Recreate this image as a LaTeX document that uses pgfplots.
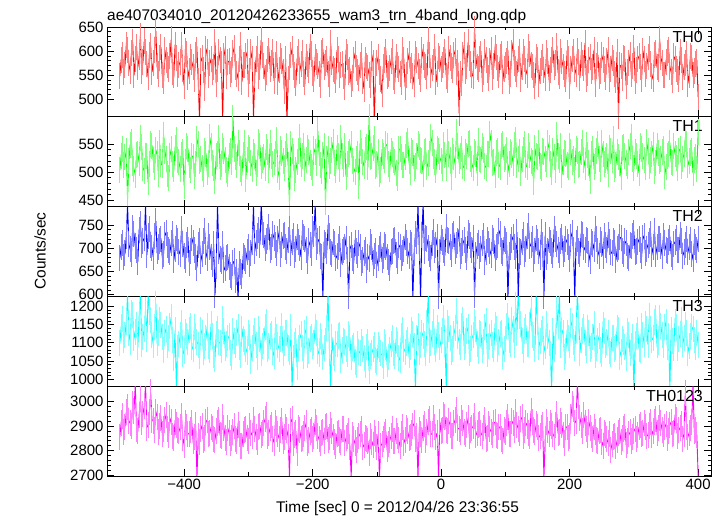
\documentclass[border=0pt]{standalone}
\usepackage{fontspec}
\setmainfont{Liberation Sans}
\usepackage{pgfplots}
\usepackage{pgfplotstable}
\pgfplotsset{compat=1.18}
\definecolor{qred}{RGB}{255,0,0}
\definecolor{qgreen}{RGB}{0,255,0}
\definecolor{qblue}{RGB}{0,0,255}
\definecolor{qcyan}{RGB}{0,255,255}
\definecolor{qmag}{RGB}{255,0,255}

\pgfplotstableread{
t a b c d e
-500 548 503 678 1098 2856
-498 581 529 703 1142 2913
-496 592 541 712 1165 2941
-494 556 512 681 1107 2874
-492 571 526 689 1121 2898
-490 612 537 726 1158 2956
-488 603 452 793 1230 2977
-486 574 519 709 1126 2921
-484 558 548 698 1103 2912
-482 595 553 688 1181 2902
-480 619 517 744 1176 2990
-478 549 506 731 1112 2963
-476 583 495 705 1129 3070
-474 608 531 697 1149 2887
-472 566 533 671 1088 2881
-470 587 517 739 1171 2945
-468 632 561 752 1235 3012
-466 559 544 706 1096 2918
-464 578 508 716 1117 2949
-462 621 502 722 1137 2981
-460 597 529 792 1190 3068
-458 573 528 685 1109 2894
-456 545 482 727 1232 2903
-454 592 514 741 1183 2957
-452 611 550 708 1162 3038
-450 556 547 701 1121 2926
-448 574 521 681 1095 2922
-446 603 509 727 1144 2884
-444 642 539 759 1207 2959
-442 568 532 694 1098 2938
-440 552 497 702 1126 2874
-438 586 551 715 1162 2901
-436 608 515 719 1148 2931
-434 549 512 683 1115 2869
-432 537 566 688 1081 2890
-430 602 538 728 1127 2923
-428 581 524 734 1139 2947
-426 571 497 706 1093 2889
-424 563 489 696 1112 2865
-422 589 529 692 1146 2931
-420 624 541 711 1171 2916
-418 557 514 731 1108 2861
-416 549 506 674 1058 2852
-414 613 543 699 1134 2918
-412 586 557 723 975 2903
-410 552 521 716 1087 2882
-408 571 518 692 1096 2878
-406 578 505 687 1121 2895
-404 612 531 741 1153 2941
-402 563 536 709 1068 2851
-400 528 476 683 1077 2823
-398 601 518 674 1129 2912
-396 594 547 706 1118 2896
-394 545 541 718 1101 2867
-392 559 512 669 1135 2869
-390 587 503 693 1147 2884
-388 577 529 722 1089 2911
-386 566 527 711 1082 2839
-384 541 493 697 1142 2857
-382 592 515 682 1118 2903
-380 603 558 658 1103 2690
-378 538 549 706 1095 2858
-376 455 519 715 1064 2836
-374 579 524 672 1136 2887
-372 586 507 687 1127 2902
-370 561 497 715 1076 2842
-368 522 538 738 1092 2853
-366 604 533 691 1113 2918
-364 597 501 679 1145 2925
-362 549 515 727 1091 2866
-360 574 562 703 1081 2871
-358 583 546 682 1151 2895
-356 556 516 665 1119 2890
-354 566 508 709 1067 2847
-352 618 484 598 1056 2844
-350 532 529 661 1124 2881
-348 563 533 795 1137 2912
-346 598 561 694 1102 2924
-344 581 509 676 1098 2863
-342 572 514 672 1081 2859
-340 458 547 709 1164 2937
-338 589 537 653 1133 2893
-336 605 521 657 1085 2852
-334 548 503 678 1097 2836
-332 577 496 681 1112 2891
-330 579 529 659 1118 2871
-328 552 538 643 1073 2829
-326 561 518 637 1061 2852
-324 596 596 669 1131 2874
-322 607 541 672 1104 2899
-320 567 527 631 1095 2847
-318 553 512 648 1126 2838
-316 543 551 592 1142 2905
-314 584 534 667 1088 2869
-312 612 505 648 1067 2818
-310 536 498 641 1139 2817
-308 571 531 684 1109 2866
-306 571 552 679 1101 2884
-304 589 488 673 1083 2889
-302 597 521 691 1074 2853
-300 531 542 702 1126 2841
-298 558 539 667 1117 2902
-296 598 517 689 1051 2873
-294 583 506 714 1085 2861
-292 461 536 791 1113 2926
-290 549 528 695 1131 2887
-288 584 499 711 1094 2857
-286 604 515 727 1062 2834
-284 547 553 739 1138 2898
-282 566 547 708 1109 2901
-280 623 511 798 1072 2864
-278 591 522 735 1092 2872
-276 569 526 728 1105 2912
-274 544 508 701 1143 2928
-272 556 544 716 1156 2945
-270 584 536 724 1084 2858
-268 601 503 745 1091 2871
-266 562 551 697 1118 2893
-264 576 529 703 1124 2903
-262 598 514 731 1076 2849
-260 538 518 722 1063 2832
-258 571 532 706 1135 2912
-256 593 557 690 1117 2887
-254 536 503 719 1094 2866
-252 561 491 736 1082 2848
-250 589 541 688 1109 2884
-248 579 534 708 1147 2919
-246 557 519 726 1071 2837
-244 517 508 729 1099 2856
-242 583 533 703 1128 2897
-240 452 546 694 1126 2882
-238 541 512 717 1087 2854
-236 566 445 741 1075 2692
-234 592 549 689 1142 2919
-232 604 537 713 978 2928
-230 567 526 727 1059 2831
-228 549 489 686 1094 2862
-226 534 504 698 1105 2873
-224 583 518 725 1033 2791
-222 598 538 714 1086 2891
-220 558 562 701 1113 2884
-218 572 515 681 1123 2849
-216 595 528 733 1086 2852
-214 553 547 724 1064 2868
-212 536 507 719 1128 2893
-210 587 522 696 1137 2912
-208 572 543 672 1067 2829
-206 561 535 715 1078 2843
-204 609 516 706 1109 2875
-202 594 509 689 1115 2885
-200 554 498 742 1091 2846
-198 542 541 731 1098 2859
-196 587 535 794 1143 2918
-194 578 517 703 1126 2894
-192 568 574 715 1078 2861
-190 553 534 719 1069 2846
-188 529 512 683 1118 2832
-186 595 502 681 1103 2873
-184 601 530 595 1062 2874
-182 567 546 712 1087 2838
-180 575 447 707 1104 2897
-178 584 523 695 1141 2901
-176 552 541 744 1233 2843
-174 531 511 726 1092 2856
-172 616 519 691 976 2905
-170 577 539 688 1116 2879
-168 563 553 713 1072 2856
-166 558 517 709 1058 2833
-164 539 504 678 1097 2819
-162 602 542 684 1097 2868
-160 584 528 702 1119 2871
-158 549 506 719 1121 2842
-156 571 561 666 1054 2836
-154 572 529 691 1079 2887
-152 548 515 697 1106 2889
-150 526 547 703 1102 2831
-148 597 492 721 1083 2851
-146 588 514 674 1068 2859
-144 556 532 597 1125 2878
-142 561 535 698 1113 2816
-140 531 549 706 1061 2694
-138 543 519 679 1087 2862
-136 582 506 672 1092 2846
-134 594 501 712 1048 2829
-132 565 524 694 1039 2803
-130 557 533 686 1096 2845
-128 543 476 711 1076 2858
-126 571 551 703 1071 2868
-124 589 537 668 1103 2887
-122 538 518 674 1084 2813
-120 521 511 689 1058 2822
-118 582 539 697 1039 2851
-116 568 545 653 1089 2849
-114 564 509 682 1101 2837
-112 550 598 677 1024 2792
-110 529 527 714 1063 2858
-108 593 529 702 1071 2836
-106 576 542 669 1082 2821
-104 450 558 684 1095 2873
-102 559 511 693 1054 2847
-100 574 514 663 1047 2814
-98 587 536 678 1093 2866
-96 556 496 699 1083 2688
-94 541 503 706 1071 2818
-92 511 536 675 1066 2828
-90 566 528 684 1037 2849
-88 582 521 708 1102 2865
-86 598 549 702 1088 2874
-84 547 547 681 1041 2805
-82 552 515 671 1062 2826
-80 564 505 657 1079 2842
-78 579 537 691 1096 2859
-76 598 532 694 1114 2889
-74 546 521 716 1071 2837
-72 538 518 718 1063 2838
-70 588 498 686 1108 2879
-68 571 489 672 1097 2861
-66 563 541 707 1057 2842
-64 553 541 703 1052 2817
-62 535 526 679 1118 2868
-60 602 513 689 1135 2895
-58 581 512 698 1083 2831
-56 526 527 724 1076 2844
-54 549 548 712 1099 2894
-52 579 556 695 1108 2878
-50 593 519 683 1067 2852
-48 561 501 711 1089 2857
-46 568 537 707 1136 2873
-44 547 534 594 1123 2902
-42 531 507 689 1091 2911
-40 593 511 730 972 2846
-38 582 528 716 1112 2859
-36 569 549 792 1147 2691
-34 556 545 701 1074 2885
-32 542 522 590 1094 2869
-30 603 519 728 1128 2843
-28 587 497 795 1118 2891
-26 571 536 694 1097 2907
-24 566 538 722 1071 2842
-22 547 509 719 1153 2874
-20 623 516 701 1230 2917
-18 592 532 687 1081 2929
-16 551 563 679 1098 2868
-14 564 551 712 1124 2866
-12 577 528 736 1156 2931
-10 609 518 696 1102 2897
-8 535 503 708 1082 2857
-6 553 541 724 1141 2871
-4 590 537 596 1121 2693
-2 584 526 691 1089 2918
0 563 519 723 1107 2878
2 571 507 713 1133 2884
4 581 548 697 1168 2946
6 597 531 689 1096 2937
8 548 508 745 979 2886
10 539 553 718 1154 2879
12 604 533 716 1139 2921
14 586 522 702 1112 2904
16 569 492 688 1076 2861
18 561 538 727 1083 2858
20 592 526 731 1124 2912
22 601 513 694 1141 2926
24 557 571 706 1187 2965
26 576 546 716 1118 2891
28 470 519 742 1102 2889
30 553 529 683 1089 2877
32 533 541 693 1145 2933
34 592 511 711 1163 2913
36 612 507 718 1088 2876
38 559 536 697 1106 2868
40 568 529 681 1131 2904
42 618 549 733 1142 2931
44 585 552 726 1072 2858
46 572 524 706 1084 2882
48 551 514 697 1113 2893
50 547 507 723 1121 2899
52 646 536 598 1157 2941
54 589 532 686 1137 2863
56 566 498 704 1096 2872
58 563 556 712 1077 2906
60 583 524 683 1128 2908
62 594 521 698 1124 2871
64 542 547 712 1081 2861
66 557 539 727 1102 2894
68 598 511 671 1142 2923
70 581 508 692 1159 2849
72 561 533 718 1069 2853
74 543 533 709 1091 2908
76 579 568 695 1115 2887
78 602 552 685 1127 2876
80 546 517 723 1093 2865
82 569 518 716 1083 2913
84 606 495 678 1148 2916
86 587 534 703 1139 2862
88 565 538 707 1084 2859
90 551 512 738 1101 2895
92 588 509 731 1125 2897
94 594 547 694 1128 2847
96 537 549 689 1063 2838
98 562 523 721 1082 2886
100 571 526 715 1109 2874
102 579 539 706 1146 2913
104 594 501 594 1172 2938
106 538 514 686 1107 2869
108 553 535 702 1097 2866
110 596 531 718 1161 2921
112 618 516 725 1138 2911
114 574 548 702 1093 2884
116 562 557 684 1204 2957
118 552 512 735 1128 2906
120 584 523 591 1238 2889
122 598 535 693 1174 2871
124 541 498 691 1151 2927
126 567 523 714 1106 2936
128 597 539 729 1079 2861
130 584 549 687 1133 2883
132 558 512 699 1143 2912
134 551 509 726 1097 2902
136 609 546 748 1096 2871
138 593 531 704 1149 2859
140 571 519 708 1196 2963
142 566 517 719 1121 2917
144 549 483 676 1112 2885
146 528 542 695 1083 2874
148 587 528 722 1229 2907
150 581 526 713 1158 2896
152 532 551 694 1088 2853
154 558 511 681 1104 2861
156 575 507 736 1126 2894
158 587 538 707 1137 2905
160 561 536 596 1075 2690
162 543 524 728 1091 2849
164 596 514 681 1152 2917
166 579 552 694 1118 2882
168 543 542 717 1099 2868
170 561 515 711 1068 2913
172 582 501 695 974 2899
174 603 538 686 1133 2868
176 566 527 741 1083 2856
178 574 504 721 1102 2904
180 611 566 709 1193 2949
182 556 529 697 1147 2872
184 548 521 686 1234 2874
186 598 547 715 1093 2921
188 579 495 724 1135 2903
190 567 518 688 1126 2863
192 553 534 698 1061 2831
194 541 532 719 1078 2895
196 595 512 713 1128 2897
198 583 509 703 1112 2852
200 527 547 677 1094 2858
202 562 536 724 1159 2937
204 584 518 734 1146 2989
206 597 524 696 1102 2968
208 562 503 593 1087 2912
210 553 541 712 1136 2921
212 599 538 719 1231 3072
214 578 512 694 1168 2983
216 544 515 687 1072 2934
218 591 536 731 1107 2906
220 576 552 728 1133 2878
222 564 521 702 1144 2945
224 617 509 696 1098 2911
226 541 548 718 1079 2889
228 554 531 716 1141 2862
230 582 516 688 1126 2917
232 588 484 672 1083 2893
234 559 533 713 1092 2864
236 567 541 709 1116 2847
238 603 509 698 1151 2898
240 531 519 741 1067 2874
242 568 538 721 1087 2843
244 592 549 694 1105 2839
246 547 523 684 1119 2881
248 558 506 718 1081 2886
250 591 551 709 1068 2836
252 581 533 683 1149 2818
254 562 514 727 1132 2872
256 546 522 706 1094 2863
258 579 529 696 1101 2847
260 602 497 729 1127 2829
262 542 543 713 1077 2868
264 563 537 691 1069 2802
266 586 521 689 1114 2827
268 574 558 715 1113 2856
270 553 506 711 1083 2859
272 539 513 674 1088 2817
274 598 536 698 1141 2842
276 465 526 703 1134 2871
278 571 517 724 1062 2879
280 568 492 722 1076 2836
282 544 542 693 1109 2851
284 585 544 688 1103 2889
286 583 528 715 1088 2896
288 528 517 711 1057 2824
290 556 511 684 1132 2838
292 576 535 679 1121 2866
294 592 547 706 1071 2874
296 553 563 704 1092 2839
298 568 523 726 1116 2857
300 607 508 733 977 2881
302 537 535 691 1097 2889
304 561 529 695 1118 2847
306 584 514 713 1134 2862
308 589 498 719 1084 2895
310 566 546 697 1079 2904
312 542 541 683 1146 2869
314 601 528 722 1121 2873
316 583 521 727 1097 2911
318 553 509 689 1152 2897
320 569 554 699 1139 2858
322 587 537 708 1094 2865
324 604 511 716 1172 2902
326 572 521 731 1137 2918
328 548 533 688 1108 2864
330 541 548 702 1112 2881
332 592 502 738 1156 2917
334 596 516 687 1169 2929
336 566 546 702 1093 2873
338 562 534 719 1101 2892
340 625 519 719 1167 2931
342 587 523 705 1146 2913
344 574 536 684 1121 2884
346 549 541 726 1093 2868
348 551 494 711 1143 2897
350 578 509 696 1157 2907
352 596 528 693 1089 2852
354 603 532 714 1118 2879
356 567 552 722 973 2906
358 556 518 688 1136 2916
360 539 516 681 1104 2869
362 589 546 709 1087 2871
364 584 533 713 1158 2938
366 563 525 723 1142 2924
368 557 507 697 1087 2861
370 542 538 697 1109 2883
372 598 541 729 1124 2894
374 581 511 716 1163 2907
376 545 523 684 1096 2847
378 566 532 692 1114 2868
380 576 559 708 1149 3035
382 594 549 721 1128 2897
384 532 512 691 1072 2856
386 551 519 703 1091 2873
388 589 534 717 1118 2891
390 586 537 688 1144 2918
392 551 498 676 1137 3066
394 559 522 713 1108 2879
396 573 527 702 1089 2883
398 578 506 697 1126 2862
400 504 571 719 1095 2695
}\data

\pgfplotsset{
  qdp/.style={
    width=604bp, height=89.8bp, scale only axis, anchor=south west,
    xmin=-520, xmax=420,
    xtick={-400,-200,0,200,400}, xticklabels={},
    minor x tick num=1, minor y tick num=4,
    major tick length=7bp, minor tick length=3.5bp,
    axis line style={line width=0.8pt},
    every tick/.style={black, line width=0.6pt},
    tick label style={font=\fontsize{15}{17}\selectfont},
    /pgf/number format/assume math mode=true,
    /pgf/number format/1000 sep={},
  },
  err/.style={only marks, mark=|, mark size=13bp, forget plot,
    mark options={#1!50, line width=1.0pt}},
  ln/.style={#1, line width=0.9pt, mark=none},
}
\tikzset{lab/.style={anchor=north east, inner sep=0pt, xshift=-8bp, yshift=-4bp,
    font=\fontsize{16}{18}\selectfont}}

\begin{document}
\begin{tikzpicture}
\useasboundingbox (0,0) rectangle (723bp,516bp);
\node[anchor=base west, inner sep=0pt, font=\fontsize{15.5}{18}\selectfont] at (107bp,495bp) {ae407034010\_20120426233655\_wam3\_trn\_4band\_long.qdp};
\node[rotate=90, inner sep=0pt, font=\fontsize{15.5}{18}\selectfont] at (40bp,265bp) {Counts/sec};
\node[anchor=base, inner sep=0pt, font=\fontsize{15.5}{18}\selectfont] at (397.5bp,4bp) {Time [sec] 0 = 2012/04/26 23:36:55};

\begin{axis}[qdp, at={(107bp,399.2bp)}, ymin=463, ymax=650, ytick={500,550,600,650}]
\addplot[err=qred] table[x=t,y=a]{\data};
\addplot[ln=qred] table[x=t,y=a]{\data};
\node[lab] at (rel axis cs:1,1) {TH0};
\end{axis}

\begin{axis}[qdp, at={(107bp,309.4bp)}, ymin=439, ymax=598, ytick={450,500,550}]
\addplot[err=qgreen] table[x=t,y=b]{\data};
\addplot[ln=qgreen] table[x=t,y=b]{\data};
\node[lab] at (rel axis cs:1,1) {TH1};
\end{axis}

\begin{axis}[qdp, at={(107bp,219.6bp)}, ymin=596, ymax=790, ytick={600,650,700,750}]
\addplot[err=qblue] table[x=t,y=c]{\data};
\addplot[ln=qblue] table[x=t,y=c]{\data};
\node[lab] at (rel axis cs:1,1) {TH2};
\end{axis}

\begin{axis}[qdp, at={(107bp,129.8bp)}, ymin=981, ymax=1227, ytick={1000,1050,1100,1150,1200}]
\addplot[err=qcyan] table[x=t,y=d]{\data};
\addplot[ln=qcyan] table[x=t,y=d]{\data};
\node[lab] at (rel axis cs:1,1) {TH3};
\end{axis}

\begin{axis}[qdp, at={(107bp,40bp)}, ymin=2696, ymax=3063, ytick={2700,2800,2900,3000},
  xticklabels={−400,−200,0,200,400}]
\addplot[err=qmag] table[x=t,y=e]{\data};
\addplot[ln=qmag] table[x=t,y=e]{\data};
\node[lab] at (rel axis cs:1,1) {TH0123};
\end{axis}
\end{tikzpicture}
\end{document}
